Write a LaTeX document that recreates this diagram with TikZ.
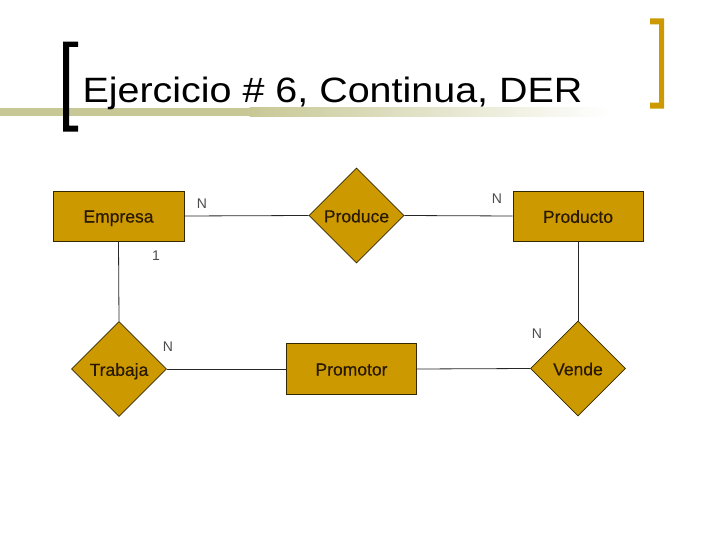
\documentclass[tikz,border=0pt]{standalone}
\usepackage{fontspec}
\setmainfont{Liberation Sans}
\newfontfamily\nodefont{Liberation Sans}[FakeBold=0.35]
\usetikzlibrary{shapes.geometric}
\definecolor{gold}{RGB}{204,153,0}
\definecolor{edgec}{RGB}{51,40,0}
\definecolor{txt}{RGB}{40,25,0}
\definecolor{khaki}{RGB}{200,200,150}
\begin{document}
\begin{tikzpicture}[x=1pt,y=-1pt,
  entity/.style={rectangle, draw=edgec, fill=gold, line width=0.8pt, minimum width=131pt, minimum height=50pt, inner sep=0pt, text depth=0pt, font=\nodefont\fontsize{17.5}{20}\selectfont, text=txt},
  relation/.style={diamond, draw=edgec, fill=gold, line width=0.8pt, minimum width=95pt, minimum height=95pt, inner sep=0pt, text depth=0pt, font=\nodefont\fontsize{17.5}{20}\selectfont, text=txt},
  conn/.style={draw=black!85, line width=0.8pt},
  card/.style={font=\fontsize{14}{16}\selectfont, text=black!70, inner sep=0pt}]
\useasboundingbox (0,0) rectangle (720,540);
% header rule
\fill[khaki] (0,108) rectangle (250,116.5);
\shade[left color=khaki, right color=white] (249.5,108) rectangle (610,116.5);
% brackets
\fill[black] (63,41.7) -- (78,41.7) -- (78,47) -- (69,47) -- (69,125.7) -- (78,125.7) -- (78,131.7) -- (63,131.7) -- cycle;
\fill[gold] (664,18.3) -- (650,18.3) -- (650,24.3) -- (659,24.3) -- (659,102.7) -- (650,102.7) -- (650,108.7) -- (664,108.7) -- cycle;
% title
\node[anchor=base west, inner sep=0pt] (title) at (82.3,102.5) {\resizebox{500pt}{25.5pt}{Ejercicio \# 6, Continua, DER}};
% nodes
\node[entity] (empresa) at (118.5,216) {\raisebox{-1pt}{Empresa}};
\node[relation] (produce) at (356.5,215.5) {\raisebox{-1pt}{Produce}};
\node[entity, minimum width=130pt] (producto) at (578,216) {\raisebox{-1pt}{Producto}};
\node[relation] (trabaja) at (119,369) {\raisebox{-1pt}{Trabaja}};
\node[entity, minimum width=130pt, minimum height=51pt] (promotor) at (351.5,369) {\raisebox{-1pt}{Promotor}};
\node[relation] (vende) at (578,368.5) {\raisebox{-1pt}{Vende}};
% connectors
\draw[conn] (empresa.east) -- (produce.west);
\draw[conn] (produce.east) -- (producto.west);
\draw[conn] (empresa.south) -- (trabaja.north);
\draw[conn] (trabaja.east) -- (promotor.west);
\draw[conn] (promotor.east) -- (vende.west);
\draw[conn] (producto.south) -- (vende.north);
% cardinalities
\node[card] (c1) at (202,204) {N};
\node[card] (c2) at (497,199) {N};
\node[card] (c3) at (156,256) {1};
\node[card] (c4) at (168,347) {N};
\node[card] (c5) at (537,334) {N};
\end{tikzpicture}
\end{document}
